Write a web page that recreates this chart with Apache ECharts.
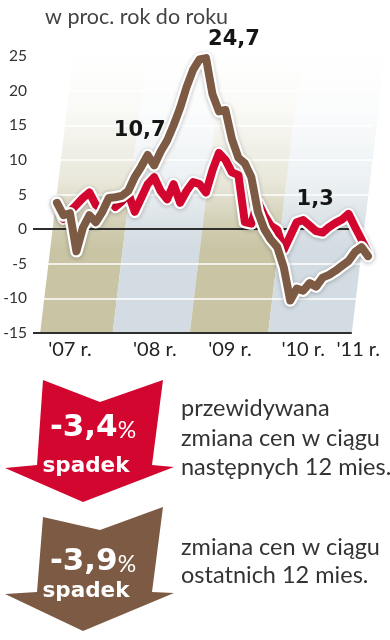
<!DOCTYPE html>
<html><head><meta charset="utf-8">
<script src="https://cdn.jsdelivr.net/npm/echarts@6/dist/echarts.min.js"></script>
<style>html,body{margin:0;padding:0;background:#fff}#c{width:390px;height:640px}</style>
</head><body><div id="c"></div>
<script>
// month index 0 = Jan 2007
const months = ['01.07','02.07','03.07','04.07','05.07','06.07','07.07','08.07','09.07','10.07','11.07','12.07',
  '01.08','02.08','03.08','04.08','05.08','06.08','07.08','08.08','09.08','10.08','11.08','12.08',
  '01.09','02.09','03.09','04.09','05.09','06.09','07.09','08.09','09.09','10.09','11.09','12.09',
  '01.10','02.10','03.10','04.10','05.10','06.10','07.10','08.10','09.10','10.10','11.10','12.10','01.11'];
// red: expected price change in next 12 months
const expectedChange = [3.8,1.5,2.5,3.5,4.5,5.3,3.5,2.8,4.5,3.2,4.0,5.2,
  2.5,4.5,6.5,7.5,5.5,4.3,6.5,3.8,5.5,6.8,6.5,5.3,
  8.5,11.0,10.0,8.2,7.8,1.0,0.8,3.9,2.0,0.5,-0.1,-3.0,
  -1.0,1.0,1.3,0.5,-0.3,-0.5,0.3,0.9,1.4,2.2,0.3,-1.5,-3.4];
// brown: price change over last 12 months
const pastChange = [3.8,2.0,2.3,-3.2,0.2,2.0,1.0,2.5,4.5,4.6,4.8,5.5,
  7.5,9.0,10.7,9.2,11.2,12.8,15.0,17.5,20.5,23.0,24.5,24.7,
  19.5,17.0,17.2,13.0,10.3,9.5,7.5,2.5,0.0,-1.5,-2.6,-5.5,
  -10.3,-8.6,-8.9,-7.8,-8.3,-7.0,-6.6,-6.0,-5.3,-4.6,-3.3,-2.6,-3.9];
const yTicks = {min:-15, max:25, step:5};
const xTickLabels = ["'07 r.","'08 r.","'09 r.","'10 r.","'11 r."];
const xTickPos = [2.0, 15.1, 26.7, 38.0, 46.5];
const bandEdges = [-2.6, 8.6, 20.5, 32.6, 45.5];
const callouts = [
  {series:'past', idx:23, text:'24,7'},
  {series:'past', idx:14, text:'10,7'},
  {series:'expected', idx:38, text:'1,3'}
];
const forecastValue = '-3,4';
const pastValue = '-3,9';

const RED = '#d3062f', BROWN = '#7c5a44';
const OLIVE = [200,196,164], BLUE = [210,220,226];
const FONT = 'Lato, "Noto Sans", sans-serif';
const BOLD = '"DejaVu Sans", sans-serif';

function rgba(c,a){return 'rgba('+c[0]+','+c[1]+','+c[2]+','+a+')';}
function grad(c){
  return new echarts.graphic.LinearGradient(0,0,0,1,[
    {offset:0,color:rgba(c,0)},{offset:0.2,color:rgba(c,0.1)},
    {offset:0.45,color:rgba(c,0.4)},{offset:0.62,color:rgba(c,0.85)},{offset:0.7,color:rgba(c,1)},{offset:1,color:rgba(c,1)}]);
}
const bandData = [];
for (let i=0;i<bandEdges.length-1;i++) bandData.push([bandEdges[i], bandEdges[i+1], i%2]);

const pair = arr => arr.map((v,i)=>[i,v]);
function mp(key){
  return {symbol:'circle', symbolSize:0, silent:true,
    label:{show:true, fontFamily:BOLD, fontWeight:'bold', fontSize:21, color:'#151515'},
    data: callouts.filter(c=>c.series===key).map(c=>{
      const arr = key==='past'?pastChange:expectedChange;
      const off = c.text==='24,7'?[28,-19]:(c.text==='10,7'?[-8,-24]:[12,-21]);
      return {coord:[c.idx, arr[c.idx]], label:{formatter:c.text, offset:off}};
    })};
}

const chart = echarts.init(document.getElementById('c'), null, {renderer:'canvas'});
chart.setOption({
  animation:false,
  title:{text:'w proc. rok do roku', left:40, top:1,
    textStyle:{fontFamily:FONT, fontWeight:'normal', fontSize:21.5, color:'#444'}},
  grid:{left:33, right:18, top:56, height:277},
  xAxis:{type:'value', min:-3.7, max:48.62,
    axisLine:{show:false}, axisTick:{show:false}, splitLine:{show:false},
    axisLabel:{customValues:xTickPos, margin:7, fontFamily:FONT, fontSize:20, color:'#222',
      formatter:v=>{const i=xTickPos.findIndex(p=>Math.abs(p-v)<0.01);return i>=0?xTickLabels[i]:'';}}},
  yAxis:{type:'value', min:yTicks.min, max:yTicks.max, interval:yTicks.step, z:3,
    axisLine:{show:false}, axisTick:{show:false},
    axisLabel:{margin:6, fontFamily:FONT, fontSize:15.5, color:'#333'},
    splitLine:{lineStyle:{color:'#ffffff', width:1.5}}},
  series:[
    {type:'custom', z:2, clip:false, silent:true, data:bandData,
      renderItem:(params, api)=>{
        const s=api.value(0), e=api.value(1);
        const bl=api.coord([s,yTicks.min]), br=api.coord([e,yTicks.min]);
        const tl=api.coord([s,yTicks.max]), tr=api.coord([e,yTicks.max]);
        const h=bl[1]-tl[1], k=0.12;
        return {type:'polygon', shape:{points:[[bl[0],bl[1]],[br[0],br[1]],[tr[0]+h*k,tr[1]],[tl[0]+h*k,tl[1]]]},
          style:{fill:grad(api.value(2)===0?OLIVE:BLUE)}};
      }},
    {type:'line', z:4, data:[], silent:true,
      markLine:{silent:true, symbol:'none', label:{show:false},
        data:[
          [{coord:[-3.7,0]},{coord:[45.5,0]}],
          [{coord:[-3.7,-15]},{coord:[45.5,-15]}]
        ],
        lineStyle:{color:'#2e2e2e', type:'solid', width:1.8}}},
    {type:'line', z:5, data:pair(expectedChange), symbol:'none', clip:false, silent:true,
      lineStyle:{color:'#fff', width:12.5, join:'round', cap:'round', shadowColor:'rgba(0,0,0,0.25)', shadowBlur:4, shadowOffsetY:1}},
    {type:'line', z:5, data:pair(expectedChange), symbol:'none', clip:false, silent:true,
      lineStyle:{color:RED, width:8, join:'round', cap:'round'}, markPoint:mp('expected')},
    {type:'line', z:5, data:pair(pastChange), symbol:'none', clip:false, silent:true,
      lineStyle:{color:'#fff', width:12.5, join:'round', cap:'round', shadowColor:'rgba(0,0,0,0.25)', shadowBlur:4, shadowOffsetY:1}},
    {type:'line', z:5, data:pair(pastChange), symbol:'none', clip:false, silent:true,
      lineStyle:{color:BROWN, width:8, join:'round', cap:'round'}, markPoint:mp('past')}
  ],
  graphic:[
    {type:'polygon', shape:{points:[[43,380],[100,402],[163,380],[152,465],[174,467],[83,502],[5,468],[37,465]]}, style:{fill:RED}},
    {type:'text', x:93, y:428, style:{text:'{a|'+forecastValue+'}{b|%}', align:'center', verticalAlign:'middle',
      rich:{a:{fontFamily:BOLD, fontWeight:'bold', fontSize:31, fill:'#fff'}, b:{fontFamily:FONT, fontSize:23, fill:'#fff', padding:[6,0,0,0]}}}},
    {type:'text', x:86, y:466, style:{text:'spadek', align:'center', verticalAlign:'middle', fontFamily:BOLD, fontWeight:'bold', fontSize:21.5, fill:'#fff'}},
    {type:'text', x:181, y:408, style:{text:'przewidywana', verticalAlign:'middle', fontFamily:FONT, fontSize:23.5, fill:'#333'}},
    {type:'text', x:181, y:438, style:{text:'zmiana cen w ciągu', verticalAlign:'middle', fontFamily:FONT, fontSize:23.5, fill:'#333'}},
    {type:'text', x:181, y:467, style:{text:'następnych 12 mies.', verticalAlign:'middle', fontFamily:FONT, fontSize:23.5, fill:'#333'}},

    {type:'polygon', shape:{points:[[43,517],[100,530],[163,507],[152,592],[174,593],[83,631],[5,594],[37,592]]}, style:{fill:BROWN}},
    {type:'text', x:93, y:562, style:{text:'{a|'+pastValue+'}{b|%}', align:'center', verticalAlign:'middle',
      rich:{a:{fontFamily:BOLD, fontWeight:'bold', fontSize:31, fill:'#fff'}, b:{fontFamily:FONT, fontSize:23, fill:'#fff', padding:[6,0,0,0]}}}},
    {type:'text', x:86, y:591, style:{text:'spadek', align:'center', verticalAlign:'middle', fontFamily:BOLD, fontWeight:'bold', fontSize:21.5, fill:'#fff'}},
    {type:'text', x:181, y:547, style:{text:'zmiana cen w ciągu', verticalAlign:'middle', fontFamily:FONT, fontSize:23.5, fill:'#333'}},
    {type:'text', x:181, y:575, style:{text:'ostatnich 12 mies.', verticalAlign:'middle', fontFamily:FONT, fontSize:23.5, fill:'#333'}}
  ]
});
</script></body></html>
